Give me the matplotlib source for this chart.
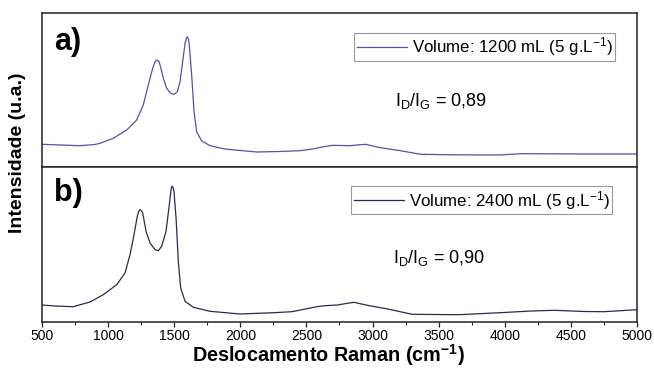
import matplotlib
matplotlib.use("Agg")
import matplotlib.pyplot as plt
from matplotlib.ticker import MultipleLocator

plt.rcParams["font.family"] = ["Liberation Sans", "DejaVu Sans"]
plt.rcParams["mathtext.fontset"] = "custom"
plt.rcParams["mathtext.rm"] = "Liberation Sans"
plt.rcParams["mathtext.it"] = "Liberation Sans:italic"
plt.rcParams["mathtext.bf"] = "Liberation Sans:bold"

# Raman shift (cm-1) and intensity (a.u.) for the 1200 mL sample
shift_1200 = [500, 600, 787, 900, 939, 1039, 1141, 1216, 1266, 1304, 1337, 1355,
              1365, 1375, 1385, 1393, 1418, 1443, 1474, 1498, 1524, 1544, 1564,
              1582, 1592, 1599, 1606, 1614, 1632, 1650, 1670, 1708, 1771, 1884,
              2000, 2124, 2300, 2452, 2545, 2640, 2700, 2830, 2900, 2950, 3050,
              3210, 3365, 3600, 3960, 4120, 4300, 4590, 5000]
int_1200 = [224, 219, 210, 222, 234, 284, 367, 467, 617, 817, 984, 1050,
            1064, 1067, 1050, 1017, 884, 784, 734, 724, 750, 850, 1050,
            1234, 1285, 1300, 1280, 1217, 917, 550, 350, 257, 210, 177,
            162, 147, 152, 160, 177, 202, 214, 210, 219, 224, 192,
            160, 124, 119, 117, 130, 129, 127, 127]

# Raman shift (cm-1) and intensity (a.u.) for the 2400 mL sample
shift_2400 = [500, 600, 737, 863, 964, 1065, 1128, 1166, 1196, 1221, 1231, 1241,
              1251, 1262, 1287, 1317, 1355, 1380, 1405, 1438, 1463, 1476, 1483,
              1490, 1498, 1514, 1531, 1549, 1582, 1645, 1771, 1998, 2250, 2390,
              2578, 2640, 2735, 2800, 2860, 2950, 3115, 3300, 3650, 3965, 4200,
              4375, 4600, 4750, 5000]
int_2400 = [167, 157, 150, 197, 270, 370, 487, 670, 870, 1054, 1100, 1120,
            1112, 1087, 904, 787, 720, 710, 754, 904, 1170, 1320, 1354,
            1345, 1304, 1037, 604, 337, 204, 144, 104, 77, 90, 100,
            150, 160, 167, 182, 194, 167, 127, 74, 70, 90, 107,
            114, 102, 100, 120]

labels = ["Volume: 1200 mL (5 g.L$^{-1}$)", "Volume: 2400 mL (5 g.L$^{-1}$)"]
ratios = ["0,89", "0,90"]
panel_tags = ["a)", "b)"]
colors = ["#5a50a6", "#2b2a4e"]

fig = plt.figure(figsize=(6.54, 3.72), dpi=100)
ax_top = fig.add_axes([0.0642, 0.5519, 0.9098, 0.4123])
ax_bot = fig.add_axes([0.0642, 0.1352, 0.9098, 0.4167], sharex=ax_top)

series = [(shift_1200, int_1200), (shift_2400, int_2400)]
ylims = [(0, 1534), (0, 1550)]
leg_anchor = [(0.963, 0.872), (0.958, 0.875)]
ratio_pos = [(0.593, 0.428), (0.590, 0.41)]
tag_pos = [(0.021, 0.91), (0.021, 0.927)]

for i, ax in enumerate([ax_top, ax_bot]):
    x, y = series[i]
    ax.plot(x, y, color=colors[i], lw=0.9, label=labels[i])
    ax.set_xlim(500, 5000)
    ax.set_ylim(*ylims[i])
    ax.set_yticks([])
    for sp in ax.spines.values():
        sp.set_color("#222222")
        sp.set_linewidth(1.1)
    leg = ax.legend(loc="upper right", bbox_to_anchor=leg_anchor[i],
                    borderaxespad=0, fancybox=False, framealpha=1,
                    edgecolor="#9a9a9a", fontsize=12.2, handlelength=3.0,
                    handletextpad=0.25, borderpad=0.15)
    leg.get_frame().set_linewidth(0.8)
    ax.text(*tag_pos[i], panel_tags[i], transform=ax.transAxes,
            fontsize=22, fontweight="bold", va="top", ha="left")
    ax.text(*ratio_pos[i], r"I$_\mathregular{D}$/I$_\mathregular{G}$ = " + ratios[i],
            transform=ax.transAxes, fontsize=13, va="center", ha="left")

ax_top.tick_params(axis="x", which="both", bottom=False, labelbottom=False)
ax_bot.xaxis.set_major_locator(MultipleLocator(500))
ax_bot.xaxis.set_minor_locator(MultipleLocator(250))
ax_bot.tick_params(axis="x", which="major", length=3.5, width=0.9,
                   labelsize=10, pad=2, color="#222222")
ax_bot.tick_params(axis="x", which="minor", length=2, width=0.8, color="#222222")

fig.text(0.502, 0.046, r"Deslocamento Raman (cm$\mathbf{^{-1}}$)", ha="center",
         va="center", fontsize=14.3, fontweight="bold")
fig.text(0.027, 0.589, "Intensidade (u.a.)", rotation=90, ha="center",
         va="center", fontsize=14, fontweight="bold")

fig.savefig("out.png", dpi=100)
